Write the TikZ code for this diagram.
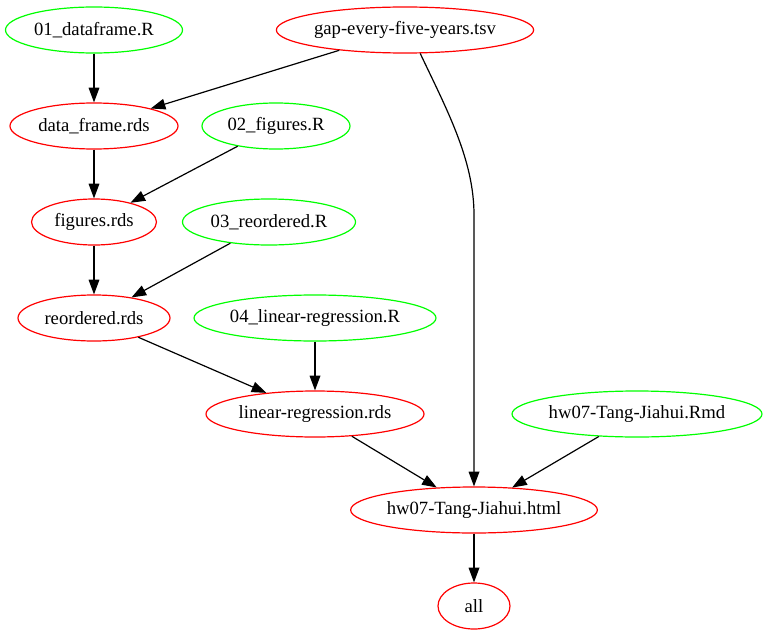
\documentclass[tikz,border=0pt]{standalone}
\usepackage{fontspec}
\setmainfont{Liberation Serif}
\usetikzlibrary{shapes.geometric,arrows.meta}
\definecolor{srcgreen}{RGB}{0,255,0}
\definecolor{outred}{RGB}{255,0,0}

\begin{document}
\begin{tikzpicture}[x=0.75pt,y=-0.75pt,
  file/.style={ellipse, draw, line width=0.9pt, inner sep=0pt,
    minimum height=46*0.75pt, font=\fontsize{14pt}{16pt}\selectfont},
  script/.style={file, draw=srcgreen},
  product/.style={file, draw=outred},
  dep/.style={-{Triangle[length=11pt,width=8pt]}, line width=0.9pt, black},
]
\useasboundingbox (0,0) rectangle (767,635);

% source scripts and inputs
\node[script,  minimum width=177*0.75pt] (dfR)   at (94,30)   {01\_dataframe.R};
\node[product, minimum width=254*0.75pt] (gap)   at (405,30)  {gap-every-five-years.tsv};
\node[product, minimum width=168*0.75pt] (dfrds) at (94,126)  {data\_frame.rds};
\node[script,  minimum width=148*0.75pt] (figR)  at (276,126) {02\_figures.R};
\node[product, minimum width=125*0.75pt] (figrds) at (94,222) {figures.rds};
\node[script,  minimum width=173*0.75pt] (reoR)  at (269,222) {03\_reordered.R};
\node[product, minimum width=152*0.75pt] (reords) at (94,318) {reordered.rds};
\node[script,  minimum width=242*0.75pt] (lmR)   at (315,318) {04\_linear-regression.R};
\node[product, minimum width=218*0.75pt] (lmrds) at (315,414) {linear-regression.rds};
\node[script,  minimum width=250*0.75pt] (rmd)   at (637,414) {hw07-Tang-Jiahui.Rmd};
\node[product, minimum width=246*0.75pt] (html)  at (474,510) {hw07-Tang-Jiahui.html};
\node[product, minimum width=72*0.75pt]  (all)   at (474,606) {all};

% dependencies
\draw[dep] (dfR) -- (dfrds);
\draw[dep] (gap) -- (dfrds);
\draw[dep] (dfrds) -- (figrds);
\draw[dep] (figR) -- (figrds);
\draw[dep] (figrds) -- (reords);
\draw[dep] (reoR) -- (reords);
\draw[dep] (reords) -- (lmrds);
\draw[dep] (lmR) -- (lmrds);
\draw[dep] (lmrds) -- (html);
\draw[dep] (rmd) -- (html);
\coordinate (bend) at (474,215);
\draw[dep] (gap.-57) .. controls (447,110) and (474,160) .. (bend) -- (html);
\draw[dep] (html) -- (all);
\end{tikzpicture}
\end{document}
